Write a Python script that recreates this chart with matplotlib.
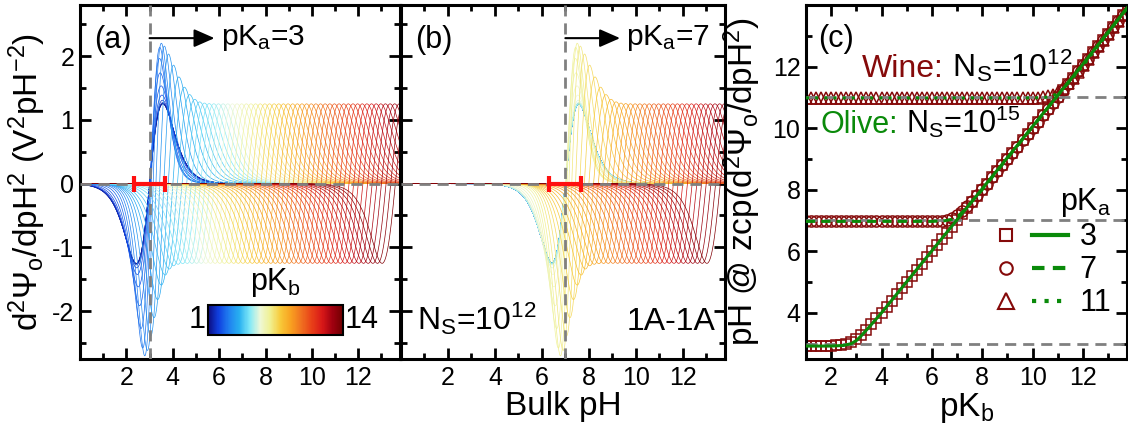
import numpy as np
import matplotlib
matplotlib.use("Agg")
import matplotlib.pyplot as plt
from matplotlib.colors import LinearSegmentedColormap, Normalize
from matplotlib.cm import ScalarMappable
from matplotlib.legend_handler import HandlerTuple
from matplotlib.lines import Line2D

plt.rcParams['font.family'] = ['Liberation Sans', 'DejaVu Sans']
plt.rcParams['mathtext.fontset'] = 'custom'
plt.rcParams['mathtext.rm'] = 'Liberation Sans'
plt.rcParams['mathtext.it'] = 'Liberation Sans'
plt.rcParams['mathtext.bf'] = 'Liberation Sans:bold'
plt.rcParams.update({
    'axes.unicode_minus': False,
    'axes.linewidth': 2.2,
    'xtick.direction': 'in', 'ytick.direction': 'in',
    'xtick.top': True, 'ytick.right': True,
    'xtick.major.size': 8, 'ytick.major.size': 8,
    'xtick.minor.size': 4.5, 'ytick.minor.size': 4.5,
    'xtick.major.width': 2, 'ytick.major.width': 2,
    'xtick.minor.width': 2, 'ytick.minor.width': 2,
    'xtick.major.pad': 5, 'ytick.major.pad': 4,
    'xtick.labelsize': 18, 'ytick.labelsize': 18,
})

# ---- panels (a), (b): d2Psi/dpH2 curves, one per pKb ----
pKa_panels = [3, 7]
pKb_family = np.round(np.arange(1.0, 13.61, 0.2), 1)
lobe_height = 1.25      # height of a lone lobe, read at pKa -/+ 0.57
deep_dip = 2.7          # deepest lobe when pKb ~ pKa
high_peak = 2.2         # highest lobe when pKb ~ pKa
bar_halfwidth = 0.68    # red bar around pKa
arrow_ends = [5.8, 9.33]
label_x = [6.1, 9.6]

# colour scale of pKb (1 -> 14)
cb_colors = ['#0c0c80', '#1040e0', '#2080f0', '#28b0f0', '#80e8f8',
             '#eef8d8', '#f0f090', '#f8c838', '#f8a020', '#f07020',
             '#e84018', '#d81818', '#a00010', '#700000']

# ---- panel (c): pH at zero crossing vs pKb ----
pKb_grid = np.round(np.arange(1.0, 13.81, 0.2), 1)
wine_pH_3 = [2.93, 2.93, 2.93, 2.93, 2.93, 2.93, 2.94, 2.95, 2.98, 3.04,
             3.14, 3.28, 3.45, 3.63, 3.82, 4.01, 4.2, 4.4, 4.6, 4.8,
             5.0, 5.2, 5.4, 5.6, 5.8, 6.0, 6.2, 6.4, 6.6, 6.8,
             7.0, 7.2, 7.4, 7.6, 7.8, 8.0, 8.2, 8.4, 8.6, 8.8,
             9.0, 9.2, 9.4, 9.6, 9.8, 10.0, 10.21, 10.41, 10.61, 10.82,
             11.02, 11.23, 11.43, 11.64, 11.84, 12.05, 12.25, 12.46, 12.66, 12.87,
             13.07, 13.28, 13.48, 13.69, 13.9]
wine_pH_7 = [6.97, 6.97, 6.97, 6.97, 6.97, 6.97, 6.97, 6.97, 6.97, 6.97,
             6.97, 6.97, 6.97, 6.97, 6.97, 6.97, 6.97, 6.97, 6.97, 6.97,
             6.97, 6.97, 6.97, 6.97, 6.97, 6.97, 6.98, 6.99, 7.02, 7.08,
             7.17, 7.3, 7.46, 7.64, 7.82, 8.01, 8.2, 8.4, 8.6, 8.8,
             9.0, 9.2, 9.4, 9.6, 9.8, 10.0, 10.21, 10.41, 10.61, 10.82,
             11.02, 11.23, 11.43, 11.64, 11.84, 12.05, 12.25, 12.46, 12.66, 12.87,
             13.07, 13.28, 13.48, 13.69, 13.9]
wine_pH_11 = [10.98, 10.98, 10.98, 10.98, 10.98, 10.98, 10.98, 10.98, 10.98, 10.98,
              10.98, 10.98, 10.98, 10.98, 10.98, 10.98, 10.98, 10.98, 10.98, 10.98,
              10.98, 10.98, 10.98, 10.98, 10.98, 10.98, 10.98, 10.98, 10.98, 10.98,
              10.98, 10.98, 10.98, 10.98, 10.98, 10.98, 10.98, 10.98, 10.98, 10.98,
              10.98, 10.98, 10.98, 10.98, 10.98, 10.98, 10.99, 11.0, 11.03, 11.09,
              11.18, 11.31, 11.47, 11.64, 11.83, 12.04, 12.25, 12.46, 12.66, 12.87,
              13.07, 13.28, 13.48, 13.69, 13.9]
olive_pKb_3 = [1.0, 2.0, 2.5, 2.8, 3.0, 3.2, 3.5, 4.0, 8.0, 12.0, 13.8]
olive_pH_3 = [2.92, 2.92, 2.94, 3.0, 3.1, 3.26, 3.53, 4.0, 8.03, 12.08, 13.95]
olive_pKb_7 = [1.0, 6.0, 6.5, 6.8, 7.0, 7.2, 7.5, 8.0, 12.0, 13.8]
olive_pH_7 = [6.97, 6.97, 6.99, 7.04, 7.12, 7.26, 7.53, 8.0, 12.08, 13.95]
olive_pKb_11 = [1.0, 10.0, 10.5, 10.8, 11.0, 11.2, 11.5, 12.0, 13.8]
olive_pH_11 = [10.98, 10.98, 11.0, 11.05, 11.13, 11.27, 11.54, 12.02, 13.95]
ref_lines_c = [3, 7, 11]

wine = '#850a0a'
olive = '#0a8a0a'
grey = '#808080'


def second_derivative(pH, pKa, pKb):
    """One simulated curve: lobes sit around max(pKa, pKb), deeper when pKb ~ pKa."""
    d = pKb - pKa
    b = np.exp(-(d / (0.7 if d < 0 else 0.85)) ** 2)
    centre = np.log10(10 ** (2 * pKa) + 10 ** (2 * pKb)) / 2
    w = 1 + 0.6 * b
    h = lobe_height * (1 + (0.5 * (deep_dip + high_peak) / lobe_height - 1) * b)
    s = 1 / (1 + np.exp(-np.log(10) * w * (pH - centre)))
    y = -h / 0.0962 * s * (1 - s) * (1 - 2 * s)
    skew = (deep_dip - high_peak) / (deep_dip + high_peak) * b
    return np.where(y < 0, y * (1 + skew), y * (1 - skew))


cmap = LinearSegmentedColormap.from_list('pkb', cb_colors)
norm = Normalize(1, 14)

fig = plt.figure(figsize=(11.28, 4.25), dpi=100)
ax_a = fig.add_axes([80 / 1128, 0.1553, 320 / 1128, 0.833])
ax_b = fig.add_axes([401 / 1128, 0.1553, 324 / 1128, 0.833])
ax_c = fig.add_axes([806 / 1128, 0.1553, 321 / 1128, 0.833])

pH = np.linspace(0, 13.8, 800)
for ax, pKa, tag, x_end, x_lab in zip((ax_a, ax_b), pKa_panels, ('(a)', '(b)'),
                                      arrow_ends, label_x):
    for pKb in pKb_family:
        ax.plot(pH, second_derivative(pH, pKa, pKb), color=cmap(norm(pKb)), lw=0.5)
    ax.axhline(0, color=grey, lw=2, dashes=(4, 2.5), zorder=4)
    ax.axvline(pKa, color=grey, lw=2, dashes=(4, 2.5), zorder=4)
    ax.errorbar(pKa, 0, xerr=bar_halfwidth, color='#ff1010', lw=3,
                capsize=6, capthick=3, zorder=5)
    ax.annotate('', xy=(x_end, 2.28), xytext=(pKa, 2.28),
                arrowprops=dict(arrowstyle='-|>,head_length=0.5,head_width=0.22',
                                color='k', lw=1.5, shrinkA=0, shrinkB=0,
                                mutation_scale=25))
    ax.text(x_lab, 2.28, 'pK$_a$=%d' % pKa, fontsize=21.5, va='center')
    ax.text(0.045, 0.878, tag, fontsize=22, transform=ax.transAxes)
    ax.set_xlim(0, 13.8)
    ax.set_ylim(-2.75, 2.8)
    ax.set_xticks([2, 4, 6, 8, 10, 12])
    ax.set_xticks([1, 3, 5, 7, 9, 11, 13], minor=True)
    ax.set_yticks([-2, -1, 0, 1, 2])
    ax.set_yticks([-2.5, -1.5, -0.5, 0.5, 1.5, 2.5], minor=True)

ax_b.tick_params(labelleft=False)
ax_a.set_ylabel(r'd$^2\Psi_\mathrm{o}$/dpH$^2$ (V$^2$pH$^{-2}$)', fontsize=24)
ax_a.yaxis.set_label_coords(-0.1, 0.5)
ax_b.set_xlabel('Bulk pH', fontsize=24, labelpad=1)

cax = ax_a.inset_axes([0.40, 0.068, 0.422, 0.085])
cb = fig.colorbar(ScalarMappable(norm, cmap), cax=cax, orientation='horizontal', ticks=[])
cb.outline.set_linewidth(1.5)
ax_a.text(0.393, 0.11, '1', ha='right', va='center', fontsize=22, transform=ax_a.transAxes)
ax_a.text(0.828, 0.11, '14', ha='left', va='center', fontsize=22, transform=ax_a.transAxes)
ax_a.text(0.61, 0.17, 'pK$_b$', ha='center', va='bottom', fontsize=22, transform=ax_a.transAxes)

ax_b.text(0.05, 0.082, 'N$_S$=10$^{12}$', fontsize=23, transform=ax_b.transAxes)
ax_b.text(0.972, 0.082, '1A-1A', fontsize=23, ha='right', transform=ax_b.transAxes)

# ---- panel (c) ----
for y in ref_lines_c:
    ax_c.axhline(y, color=grey, lw=2, dashes=(4, 2.5), zorder=3)
mk = dict(ls='none', mfc='none', mec=wine, mew=1.1, zorder=2)
ax_c.plot(pKb_grid, wine_pH_7, marker='o', ms=8, **mk)
ax_c.plot(pKb_grid, wine_pH_3, marker='s', ms=7.5, **mk)
ax_c.plot(pKb_grid, wine_pH_11, marker='^', ms=9, **mk)
ax_c.plot(olive_pKb_3, olive_pH_3, color=olive, lw=2.2, zorder=4)
ax_c.plot(olive_pKb_7, olive_pH_7, color=olive, lw=2.2, ls=(0, (3, 2)), zorder=4)
ax_c.plot(olive_pKb_11, olive_pH_11, color=olive, lw=2.2, ls=(0, (1, 2)), zorder=4)

ax_c.set_xlim(1, 13.75)
ax_c.set_ylim(2.5, 14)
ax_c.set_xticks([2, 4, 6, 8, 10, 12])
ax_c.set_xticks([3, 5, 7, 9, 11, 13], minor=True)
ax_c.set_yticks([4, 6, 8, 10, 12])
ax_c.set_yticks([3, 5, 7, 9, 11, 13], minor=True)
ax_c.set_xlabel('pK$_b$', fontsize=24, labelpad=1)
ax_c.set_ylabel(r'pH @ zcp(d$^2\Psi_\mathrm{o}$/dpH$^2$)', fontsize=24)
ax_c.yaxis.set_label_coords(-0.135, 0.5)
ax_c.text(0.037, 0.88, '(c)', fontsize=22, transform=ax_c.transAxes)

handles = [
    (Line2D([], [], ls='none', marker='s', ms=9, mfc='none', mec=wine, mew=1.5),
     Line2D([], [], color=olive, lw=3)),
    (Line2D([], [], ls='none', marker='o', ms=9, mfc='none', mec=wine, mew=1.5),
     Line2D([], [], color=olive, lw=3, ls=(0, (3, 2)))),
    (Line2D([], [], ls='none', marker='^', ms=11, mfc='none', mec=wine, mew=1.5),
     Line2D([], [], color=olive, lw=3, ls=(0, (1, 2)))),
]
ax_c.legend(handles, ['3', '7', '11'], handler_map={tuple: HandlerTuple(ndivide=None, pad=0.3)},
            title='pK$_a$', title_fontsize=22, fontsize=22, alignment='right',
            loc='lower right', bbox_to_anchor=(0.99, 0.08), frameon=False,
            handlelength=2.6, handletextpad=0.4, labelspacing=0.1, borderaxespad=0)

t_w = ax_c.text(0.174, 0.797, 'Wine:', color=wine, fontsize=23, transform=ax_c.transAxes)
t_o = ax_c.text(0.044, 0.638, 'Olive:', color=olive, fontsize=22, transform=ax_c.transAxes)
fig.canvas.draw()
for t, s, fs in ((t_w, ' N$_S$=10$^{12}$', 23), (t_o, ' N$_S$=10$^{15}$', 22)):
    x1 = ax_c.transAxes.inverted().transform(t.get_window_extent())[1, 0]
    ax_c.text(x1, t.get_position()[1], s, fontsize=fs, transform=ax_c.transAxes)

fig.savefig('out.png', dpi=100)
